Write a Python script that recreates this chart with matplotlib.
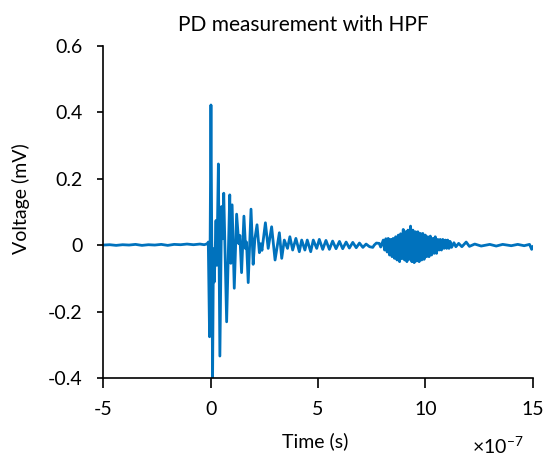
import numpy as np
import matplotlib
matplotlib.use("Agg")
import matplotlib.pyplot as plt

# time in units of 1e-7 s, voltage in mV
t_pre = [-5.0, -4.7, -4.4, -4.1, -3.8, -3.5, -3.2, -2.9, -2.6, -2.3, -2.0,
         -1.7, -1.4, -1.1, -0.8, -0.5, -0.3, -0.15, -0.11]
v_pre = [0.001, 0.002, 0.0, 0.002, 0.001, 0.003, 0.0, 0.002, 0.001, 0.003, 0.0,
         0.003, 0.002, 0.004, 0.002, 0.004, 0.002, 0.005, 0.010]

t_pulse = [-0.05, 0.014, 0.09, 0.13, 0.17, 0.25, 0.29, 0.36, 0.43, 0.51, 0.55,
           0.61, 0.745, 0.89, 0.94, 1.0, 1.10, 1.21, 1.31, 1.36, 1.44, 1.55,
           1.63, 1.67, 1.75, 1.88, 1.98, 2.06, 2.16, 2.27, 2.33, 2.39]
v_pulse = [-0.275, 0.4225, -0.403, -0.01, -0.11, 0.075, -0.06, 0.245, -0.333, 0.117, 0.02,
           0.157, -0.23, 0.152, -0.054, 0.122, -0.129, 0.094, 0.005, 0.03, -0.082, 0.088,
           -0.01, 0.01, -0.112, 0.109, -0.057, 0.02, 0.062, -0.022, 0.005, -0.015]

t_ring = [2.55, 2.68, 2.84, 3.0, 3.20, 3.31, 3.43, 3.58, 3.69, 3.82, 3.97,
          4.13, 4.24, 4.39, 4.50, 4.66, 4.78, 4.94, 5.06, 5.22, 5.37, 5.53,
          5.68, 5.84, 6.00, 6.15, 6.31, 6.46, 6.62, 6.78, 6.93, 7.09, 7.24,
          7.40, 7.55, 7.62, 7.72, 7.85, 7.92]
v_ring = [0.068, -0.009, 0.056, -0.044, 0.038, -0.039, 0.016, -0.009, 0.026, -0.014, 0.021,
          -0.019, 0.016, -0.014, 0.016, -0.019, 0.016, -0.009, 0.018, -0.012, 0.015, -0.012,
          0.013, -0.010, 0.012, -0.010, 0.010, -0.008, 0.009, -0.007, 0.007, -0.006, 0.004,
          -0.004, -0.006, 0.001, 0.007, 0.006, -0.005]

t_burst = [8.04, 8.10, 8.16, 8.22, 8.27, 8.33, 8.39, 8.45, 8.50, 8.56, 8.62, 8.68,
           8.74, 8.80, 8.85, 8.91, 8.97, 9.03, 9.08, 9.14, 9.19, 9.25, 9.31, 9.37,
           9.42, 9.48, 9.54, 9.60, 9.65, 9.71, 9.77, 9.83, 9.88, 9.94, 10.00, 10.06,
           10.11, 10.17, 10.23, 10.29, 10.35, 10.41, 10.46, 10.52, 10.58, 10.64,
           10.69, 10.75, 10.81, 10.87, 10.93, 10.99, 11.04, 11.10]
v_burst = [0.016, -0.014, 0.020, -0.020, 0.021, -0.029, 0.018, -0.034, 0.021, -0.039, 0.026, -0.044,
           0.031, -0.049, 0.035, -0.040, 0.048, -0.044, 0.041, -0.049, 0.046, -0.042, 0.058, -0.049,
           0.046, -0.052, 0.041, -0.047, 0.041, -0.049, 0.036, -0.044, 0.036, -0.042, 0.031, -0.034,
           0.026, -0.034, 0.028, -0.029, 0.021, -0.024, 0.026, -0.024, 0.018, -0.014,
           0.018, -0.014, 0.018, -0.009, 0.016, -0.009, 0.016, -0.009]

t_tail = [11.15, 11.22, 11.33, 11.42, 11.55, 11.7, 11.9, 12.05, 12.3, 12.6, 13.0,
          13.3, 13.6, 14.0, 14.3, 14.6, 14.85, 14.95, 15.0]
v_tail = [0.012, -0.006, 0.008, -0.004, 0.006, -0.004, 0.010, -0.003, 0.004, -0.002, 0.003,
          -0.002, 0.003, -0.001, 0.003, -0.001, 0.003, -0.012, -0.004]

x_ticks = [-5, 0, 5, 10, 15]
x_labels = ['-5', '0', '5', '10', '15']
y_ticks = [-0.4, -0.2, 0, 0.2, 0.4, 0.6]
y_labels = ['-0.4', '-0.2', '0', '0.2', '0.4', '0.6']

t = np.concatenate([t_pre, t_pulse, t_ring, t_burst, t_tail])
v = np.concatenate([v_pre, v_pulse, v_ring, v_burst, v_tail])

plt.rcParams['font.family'] = ['Lato', 'DejaVu Sans']
plt.rcParams['mathtext.default'] = 'regular'

fig = plt.figure(figsize=(5.45, 4.59), dpi=100)
ax = fig.add_axes([0.1895, 0.1758, 0.788, 0.724])

ax.plot(t, v, color='#0072BD', lw=2.0)

ax.set_xlim(-5, 15)
ax.set_ylim(-0.4, 0.6)
ax.set_xticks(x_ticks)
ax.set_xticklabels(x_labels)
ax.set_yticks(y_ticks)
ax.set_yticklabels(y_labels)

for side in ['top', 'right']:
    ax.spines[side].set_visible(False)
for side in ['left', 'bottom']:
    ax.spines[side].set_linewidth(1.2)

ax.tick_params(axis='x', direction='out', length=7, width=1.2, pad=9, labelsize=14)
ax.tick_params(axis='y', direction='out', length=4, width=1.2, pad=11, labelsize=14)

ax.set_xlabel('Time (s)', fontsize=14)
ax.xaxis.set_label_coords(0.493, -0.162)
ax.set_ylabel('Voltage (mV)', fontsize=14)
ax.yaxis.set_label_coords(-0.17, 0.541)

fig.text(0.557, 0.946, 'PD measurement with HPF', ha='center', va='center', fontsize=15)
fig.text(472 / 545, 0.004, r'$\times10^{-7}$', ha='left', va='bottom', fontsize=14)

fig.savefig('out.png', dpi=100)
